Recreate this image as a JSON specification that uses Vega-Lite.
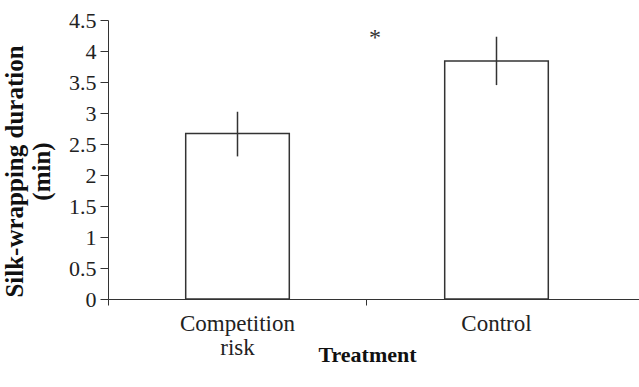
{
  "$schema": "https://vega.github.io/schema/vega-lite/v6.json",
  "width": 531,
  "height": 279,
  "autosize": "none",
  "padding": {"left": 108, "top": 20, "right": 0, "bottom": 88},
  "background": "white",
  "config": {
    "view": {"stroke": null},
    "font": "Liberation Serif",
    "axis": {"labelColor": "#222", "titleColor": "#111", "domainColor": "#333", "tickColor": "#333", "grid": false}
  },
  "datasets": {
    "bars": [
      {"treatment": "Competition risk", "mean": 2.67, "lo": 2.30, "hi": 3.02},
      {"treatment": "Control", "mean": 3.84, "lo": 3.45, "hi": 4.23}
    ],
    "sig": [
      {"treatment": "Control", "value": 4.29, "label": "*"}
    ]
  },
  "encoding": {
    "x": {
      "field": "treatment", "type": "nominal",
      "scale": {"domain": ["Competition risk", "Control"], "paddingInner": 0, "paddingOuter": 0.0251, "align": 0},
      "axis": {
        "title": "Treatment", "labelAngle": 0, "labelFont": "Liberation Serif", "labelFontSize": 23, "labelBaseline": "top",
        "labelPadding": 7, "tickSize": 6, "bandPosition": 0, "tickExtra": false, "labelLineHeight": 24,
        "labelExpr": "split(datum.label, ' ')",
        "titleFont": "Liberation Serif", "titleFontSize": 22, "titleFontWeight": "bold", "titleX": 259, "titleY": 45, "titleBaseline": "top", "titleAlign": "center"
      }
    }
  },
  "layer": [
    {
      "data": {"name": "bars"},
      "mark": {"type": "bar", "fill": "white", "stroke": "#333", "strokeWidth": 1.5, "width": {"band": 0.4}},
      "encoding": {
        "y": {
          "field": "mean", "type": "quantitative",
          "scale": {"domain": [0, 4.5], "nice": false, "zero": true},
          "axis": {
            "title": ["Silk-wrapping duration", "(min)"],
            "values": [0, 0.5, 1, 1.5, 2, 2.5, 3, 3.5, 4, 4.5],
            "format": "~g", "labelOverlap": false, "labelFont": "Liberation Serif",
            "labelFontSize": 22, "tickSize": 8, "labelPadding": 4,
            "titleFont": "Liberation Serif", "titleFontSize": 25, "titleFontWeight": "bold", "titleAngle": -90,
            "titleX": -106, "titleY": 151, "titleBaseline": "top", "titleAlign": "center", "titleLineHeight": 27
          }
        }
      }
    },
    {
      "data": {"name": "bars"},
      "mark": {"type": "rule", "stroke": "#333", "strokeWidth": 1.5},
      "encoding": {
        "y": {
          "field": "lo", "type": "quantitative",
          "scale": {"domain": [0, 4.5], "nice": false, "zero": true},
          "axis": {
            "title": ["Silk-wrapping duration", "(min)"],
            "values": [0, 0.5, 1, 1.5, 2, 2.5, 3, 3.5, 4, 4.5],
            "format": "~g", "labelOverlap": false, "labelFont": "Liberation Serif",
            "labelFontSize": 22, "tickSize": 8, "labelPadding": 4,
            "titleFont": "Liberation Serif", "titleFontSize": 25, "titleFontWeight": "bold", "titleAngle": -90,
            "titleX": -106, "titleY": 151, "titleBaseline": "top", "titleAlign": "center", "titleLineHeight": 27
          }
        },
        "y2": {"field": "hi"}
      }
    },
    {
      "data": {"name": "sig"},
      "mark": {"type": "text", "fontSize": 24, "font": "Liberation Serif", "color": "#333", "baseline": "middle", "dx": 8, "dy": 5},
      "encoding": {
        "x": {"field": "treatment", "type": "nominal", "bandPosition": 0},
        "y": {
          "field": "value", "type": "quantitative",
          "scale": {"domain": [0, 4.5], "nice": false, "zero": true},
          "axis": {
            "title": ["Silk-wrapping duration", "(min)"],
            "values": [0, 0.5, 1, 1.5, 2, 2.5, 3, 3.5, 4, 4.5],
            "format": "~g", "labelOverlap": false, "labelFont": "Liberation Serif",
            "labelFontSize": 22, "tickSize": 8, "labelPadding": 4,
            "titleFont": "Liberation Serif", "titleFontSize": 25, "titleFontWeight": "bold", "titleAngle": -90,
            "titleX": -106, "titleY": 151, "titleBaseline": "top", "titleAlign": "center", "titleLineHeight": 27
          }
        },
        "text": {"field": "label"}
      }
    }
  ]
}
